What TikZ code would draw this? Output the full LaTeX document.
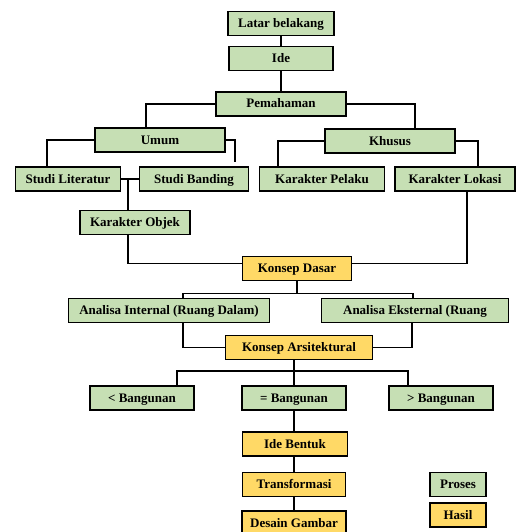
\documentclass[tikz,border=0pt]{standalone}
\usepackage{fontspec}
\setmainfont{Liberation Serif}
\usetikzlibrary{calc}
\definecolor{hijau}{HTML}{C6DFB4}
\definecolor{kuning}{HTML}{FFD966}
\tikzset{
  kotak/.style={draw, line width=1.8pt, inner sep=0pt, minimum height=24pt,
    text height=10pt, text depth=2pt,
    font=\fontsize{13}{15}\selectfont\bfseries},
  proses/.style={kotak, fill=hijau},
  hasil/.style={kotak, fill=kuning},
  garis/.style={line width=1.8pt}
}
\begin{document}
\begin{tikzpicture}[x=1pt, y=-1pt]
  \useasboundingbox (0,0) rectangle (516,532);
  \def\drawBox#1#2#3#4#5#6{\node[#1, minimum width=#5pt] (#2) at (#3,#4) {#6};}
  \drawBox{proses}{latar}{281}{23.5}{106}{Latar belakang}
  \drawBox{proses}{ide}{281}{58.5}{104}{Ide}
  \drawBox{proses}{pem}{281}{104}{130}{Pemahaman}

  \drawBox{proses}{umum}{160}{140}{130}{Umum}
  \drawBox{proses}{khusus}{390}{141}{130}{Khusus}

  \drawBox{proses}{lit}{68}{179}{105}{Studi Literatur}
  \drawBox{proses}{band}{194}{179}{109}{Studi Banding}
  \drawBox{proses}{pelaku}{322}{179}{125}{Karakter Pelaku}
  \drawBox{proses}{lokasi}{455}{179}{120}{Karakter Lokasi}
  \drawBox{proses}{objek}{135}{222.5}{110}{Karakter Objek}

  \drawBox{hasil}{dasar}{297}{268.5}{109}{Konsep Dasar}
  \drawBox{proses}{intern}{169}{310.5}{201}{Analisa Internal (Ruang Dalam)}
  \drawBox{proses}{ekstern}{415}{310.5}{187}{Analisa Eksternal (Ruang}
  \drawBox{hasil}{arsitek}{299}{347.5}{147}{Konsep Arsitektural}

  \drawBox{proses}{kurang}{142}{398}{104}{< Bangunan}
  \drawBox{proses}{sama}{294}{398}{104}{= Bangunan}
  \drawBox{proses}{lebih}{441}{398}{104}{> Bangunan}

  \drawBox{hasil}{bentuk}{295}{444}{105}{Ide Bentuk}
  \drawBox{hasil}{trans}{294}{484.5}{103}{Transformasi}
  \drawBox{hasil}{gambar}{294}{523}{104}{Desain Gambar}

  \drawBox{proses}{proses}{458}{484.5}{56}{Proses}
  \drawBox{hasil}{hasil}{458}{515}{56}{Hasil}

  % garis penghubung
  \draw[garis] (latar) -- (ide);
  \draw[garis] (ide) -- (pem);
  \draw[garis] (pem.west) -| ([xshift=-14pt]umum.north);
  \draw[garis] (pem.east) -| ([xshift=25pt]khusus.north);
  \draw[garis] (umum.west) -| ([xshift=-21pt]lit.north);
  \draw[garis] (umum.east) -| ([xshift=41pt,yshift=4pt]band.north);
  \draw[garis] (khusus.west) -| ([xshift=-44pt]pelaku.north);
  \draw[garis] (khusus.east) -| ([xshift=23pt]lokasi.north);

  \draw[garis] (lit.east) -- (band.west);
  \draw[garis] ([xshift=-7pt]objek.north) -- ([xshift=-7pt]objek.north |- lit.east);
  \draw[garis] ([xshift=-7pt]objek.south) |- ([yshift=5pt]dasar.west);
  \draw[garis] ([xshift=12pt]lokasi.south) |- ([yshift=5pt]dasar.east);

  \coordinate (bus1) at ($(dasar.south)+(0,12)$);
  \draw[garis] (dasar.south) -- (bus1);
  \draw[garis] ([xshift=14pt]intern.north) |- (bus1) -| ([xshift=-2pt]ekstern.north);
  \draw[garis] ([xshift=14pt]intern.south) |- (arsitek.west);
  \draw[garis] ([xshift=-3pt]ekstern.south) |- (arsitek.east);

  \coordinate (bus2) at ($(sama.north)+(0,-14)$);
  \draw[garis] (sama.north |- arsitek.south) -- (sama.north);
  \draw[garis] ([xshift=35pt]kurang.north) |- (bus2) -| ([xshift=-33pt]lebih.north);
  \draw[garis] (sama.south) -- (sama.south |- bentuk.north);
  \draw[garis] (sama.south |- bentuk.south) -- (sama.south |- trans.north);
  \draw[garis] (sama.south |- trans.south) -- (sama.south |- gambar.north);
\end{tikzpicture}
\end{document}
